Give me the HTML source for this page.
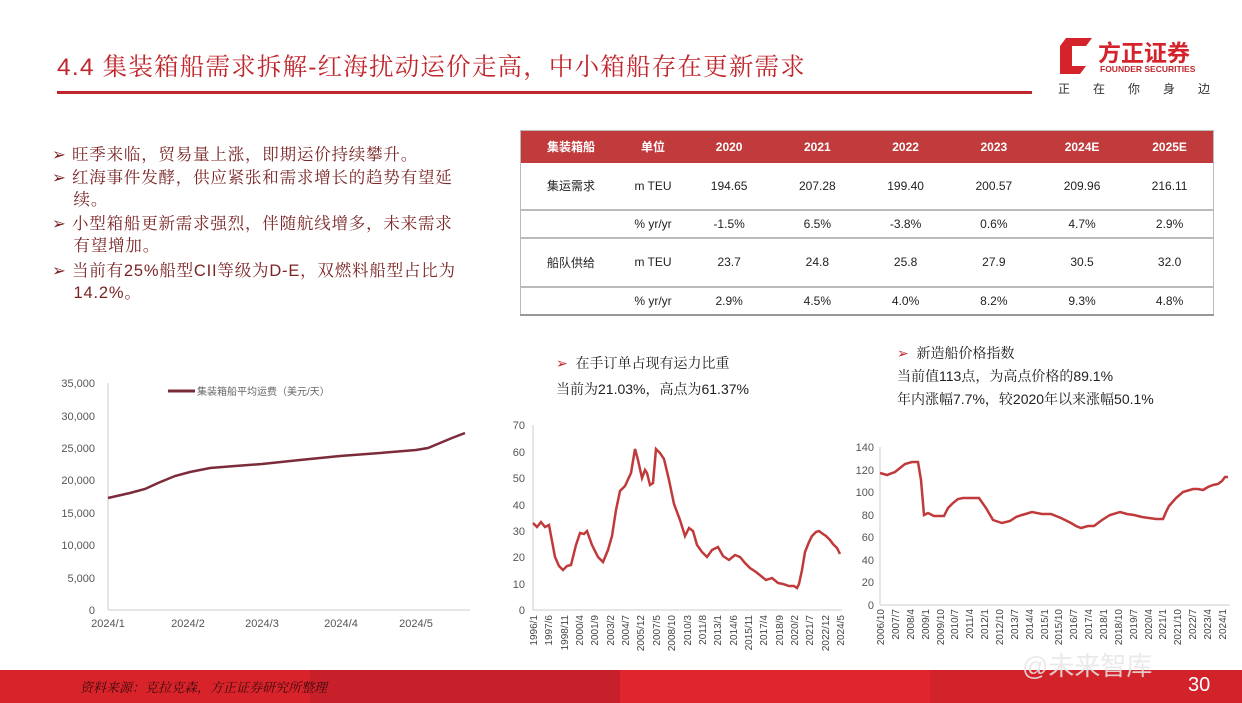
<!DOCTYPE html>
<html><head><meta charset="utf-8">
<style>
body{margin:0;width:1242px;height:703px;overflow:hidden;background:#fff;font-family:"Liberation Sans","Noto Sans CJK SC",sans-serif;position:relative}
.abs{position:absolute;white-space:nowrap}
.cn{font-family:"Liberation Sans","Noto Serif CJK SC","Noto Sans CJK SC",serif}
.bul{color:#7a2424;font-size:16.5px;line-height:22px;letter-spacing:0.8px}
table{border-collapse:collapse;font-size:12px;color:#222}
td{text-align:center;padding:0}
</style></head><body>
<div class="abs cn" style="left:57px;top:48px;font-size:24.5px;color:#c0272d;letter-spacing:1.2px">4.4 集装箱船需求拆解-红海扰动运价走高，中小箱船存在更新需求</div>
<div class="abs" style="left:57px;top:91px;width:975px;height:3px;background:#c0272d"></div>
<svg class="abs" style="left:1058px;top:36px" width="36" height="40"><path d="M8 2 H34 L28 10 H14 V30 H28 L22 38 H2 V10 Z" fill="#d4232b"/><path d="M14 10 H28 V30 H14 Z" fill="#fff"/></svg>
<div class="abs" style="left:1098px;top:34px;font-size:23px;font-weight:bold;color:#d4232b">方正证券</div>
<div class="abs" style="left:1100px;top:64px;font-size:8.5px;color:#c0272d;font-weight:bold">FOUNDER SECURITIES</div>
<div class="abs" style="left:1058px;top:80px;font-size:12px;color:#333;letter-spacing:23px">正在你身边</div>
<div class="abs bul cn" style="left:52px;top:144px">➢ 旺季来临，贸易量上涨，即期运价持续攀升。</div>
<div class="abs bul cn" style="left:52px;top:167px">➢ 红海事件发酵，供应紧张和需求增长的趋势有望延<br>&nbsp;&nbsp;&nbsp;&nbsp;续。</div>
<div class="abs bul cn" style="left:52px;top:213px">➢ 小型箱船更新需求强烈，伴随航线增多，未来需求<br>&nbsp;&nbsp;&nbsp;&nbsp;有望增加。</div>
<div class="abs bul cn" style="left:52px;top:260px">➢ 当前有25%船型CII等级为D-E，双燃料船型占比为<br>&nbsp;&nbsp;&nbsp;&nbsp;14.2%。</div>
<table class="abs" style="left:520px;top:130px;width:694px;border:1px solid #bbb">
<tr style="background:#c13a3c;color:#fff;height:32px;font-weight:bold"><td style="width:100px">集装箱船</td><td style="width:64px">单位</td><td>2020</td><td>2021</td><td>2022</td><td>2023</td><td>2024E</td><td>2025E</td></tr>
<tr style="height:47px;border-bottom:2px solid #bbb"><td>集运需求</td><td>m TEU</td><td>194.65</td><td>207.28</td><td>199.40</td><td>200.57</td><td>209.96</td><td>216.11</td></tr>
<tr style="height:28px;border-bottom:2px solid #bbb"><td></td><td>% yr/yr</td><td>-1.5%</td><td>6.5%</td><td>-3.8%</td><td>0.6%</td><td>4.7%</td><td>2.9%</td></tr>
<tr style="height:49px;border-bottom:2px solid #bbb"><td>船队供给</td><td>m TEU</td><td>23.7</td><td>24.8</td><td>25.8</td><td>27.9</td><td>30.5</td><td>32.0</td></tr>
<tr style="height:28px;border-bottom:2px solid #999"><td></td><td>% yr/yr</td><td>2.9%</td><td>4.5%</td><td>4.0%</td><td>8.2%</td><td>9.3%</td><td>4.8%</td></tr>
</table>
<div class="abs cn" style="left:556px;top:353px;font-size:14px;color:#222"><span style="color:#c0272d">➢</span>&nbsp; 在手订单占现有运力比重</div>
<div class="abs cn" style="left:556px;top:379px;font-size:14px;color:#222">当前为21.03%，高点为61.37%</div>
<div class="abs cn" style="left:897px;top:343px;font-size:14px;color:#222"><span style="color:#c0272d">➢</span>&nbsp; 新造船价格指数</div>
<div class="abs cn" style="left:897px;top:366px;font-size:14px;color:#222">当前值113点，为高点价格的89.1%</div>
<div class="abs cn" style="left:897px;top:389px;font-size:14px;color:#222">年内涨幅7.7%，较2020年以来涨幅50.1%</div>
<svg class="abs" style="left:0;top:0" width="1242" height="703" font-family="Liberation Sans, sans-serif" font-size="11" fill="#555">
<g text-anchor="end">
<text x="95" y="387">35,000</text><text x="95" y="420">30,000</text><text x="95" y="452">25,000</text><text x="95" y="484">20,000</text><text x="95" y="517">15,000</text><text x="95" y="549">10,000</text><text x="95" y="582">5,000</text><text x="95" y="614">0</text>
</g>
<line x1="108" y1="383" x2="108" y2="610" stroke="#ccc"/><line x1="108" y1="610" x2="470" y2="610" stroke="#ccc"/>
<g text-anchor="middle"><text x="108" y="627">2024/1</text><text x="188" y="627">2024/2</text><text x="262" y="627">2024/3</text><text x="341" y="627">2024/4</text><text x="416" y="627">2024/5</text></g>
<line x1="168" y1="391" x2="195" y2="391" stroke="#7b2b3a" stroke-width="3"/>
<text x="197" y="395" font-size="10" fill="#666">集装箱船平均运费（美元/天）</text>
<polyline fill="none" stroke="#7b2b3a" stroke-width="2.5" points="108,498 130,493 145,489 158,483 175,476 190,472 210,468 235,466 262,464 300,460 340,456 380,453 416,450 428,448 440,443 452,438 465,433"/>
<g text-anchor="end"><text x="525" y="429">70</text><text x="525" y="456">60</text><text x="525" y="482">50</text><text x="525" y="509">40</text><text x="525" y="535">30</text><text x="525" y="561">20</text><text x="525" y="588">10</text><text x="525" y="614">0</text></g>
<line x1="533" y1="425" x2="533" y2="610" stroke="#ccc"/><line x1="533" y1="610" x2="842" y2="610" stroke="#ccc"/>
<polyline fill="none" stroke="#c0393b" stroke-width="2.5" points="533,523 537,527 541,522 545,527 549,525 555,557 559,566 563,570 567,566 571,565 576,545 580,533 584,534 587,531 592,545 598,557 603,562 608,550 612,536 616,510 620,491 625,486 631,473 635,449 638,460 642,478 645,470 647,473 650,485 653,483 656,449 660,453 664,459 669,480 674,504 680,520 685,536 689,528 693,531 697,545 702,552 707,557 712,550 718,547 723,556 729,560 735,555 740,557 745,563 750,568 756,572 761,576 766,580 772,578 778,583 783,584 789,586 794,586 797,588 799,584 802,570 805,552 809,542 812,536 816,532 819,531 823,534 826,536 830,540 833,544 837,548 840,554"/>
<g text-anchor="end"><text x="874" y="451">140</text><text x="874" y="474">120</text><text x="874" y="496">100</text><text x="874" y="519">80</text><text x="874" y="541">60</text><text x="874" y="564">40</text><text x="874" y="586">20</text><text x="874" y="609">0</text></g>
<line x1="880" y1="447" x2="880" y2="605" stroke="#ccc"/><line x1="880" y1="605" x2="1230" y2="605" stroke="#ccc"/>
<polyline fill="none" stroke="#c0393b" stroke-width="2.5" points="880,473 887,475 895,472 900,468 905,464 912,462 918,462 921,480 924,515 928,513 934,516 944,516 948,508 953,503 958,499 963,498 979,498 986,508 993,520 1002,523 1010,521 1016,517 1022,515 1032,512 1042,514 1051,514 1061,518 1071,523 1076,526 1081,528 1088,526 1094,526 1102,520 1110,515 1120,512 1127,514 1134,515 1142,517 1149,518 1156,519 1163,519 1166,512 1169,506 1176,498 1183,492 1193,489 1198,489 1203,490 1208,487 1213,485 1218,484 1222,481 1225,477 1228,477"/>
</svg>
<svg class="abs" style="left:0;top:0" width="1242" height="703" font-family="Liberation Sans, sans-serif" font-size="10" fill="#444">
<g text-anchor="end">
<text transform="translate(537,615) rotate(-90)">1996/1</text>
<text transform="translate(552,615) rotate(-90)">1997/6</text>
<text transform="translate(568,615) rotate(-90)">1998/11</text>
<text transform="translate(583,615) rotate(-90)">2000/4</text>
<text transform="translate(598,615) rotate(-90)">2001/9</text>
<text transform="translate(614,615) rotate(-90)">2003/2</text>
<text transform="translate(629,615) rotate(-90)">2004/7</text>
<text transform="translate(644,615) rotate(-90)">2005/12</text>
<text transform="translate(660,615) rotate(-90)">2007/5</text>
<text transform="translate(675,615) rotate(-90)">2008/10</text>
<text transform="translate(691,615) rotate(-90)">2010/3</text>
<text transform="translate(706,615) rotate(-90)">2011/8</text>
<text transform="translate(721,615) rotate(-90)">2013/1</text>
<text transform="translate(737,615) rotate(-90)">2014/6</text>
<text transform="translate(752,615) rotate(-90)">2015/11</text>
<text transform="translate(767,615) rotate(-90)">2017/4</text>
<text transform="translate(783,615) rotate(-90)">2018/9</text>
<text transform="translate(798,615) rotate(-90)">2020/2</text>
<text transform="translate(813,615) rotate(-90)">2021/7</text>
<text transform="translate(829,615) rotate(-90)">2022/12</text>
<text transform="translate(844,615) rotate(-90)">2024/5</text>
<text transform="translate(884,609) rotate(-90)">2006/10</text>
<text transform="translate(899,609) rotate(-90)">2007/7</text>
<text transform="translate(914,609) rotate(-90)">2008/4</text>
<text transform="translate(929,609) rotate(-90)">2009/1</text>
<text transform="translate(944,609) rotate(-90)">2009/10</text>
<text transform="translate(958,609) rotate(-90)">2010/7</text>
<text transform="translate(973,609) rotate(-90)">2011/4</text>
<text transform="translate(988,609) rotate(-90)">2012/1</text>
<text transform="translate(1003,609) rotate(-90)">2012/10</text>
<text transform="translate(1018,609) rotate(-90)">2013/7</text>
<text transform="translate(1033,609) rotate(-90)">2014/4</text>
<text transform="translate(1048,609) rotate(-90)">2015/1</text>
<text transform="translate(1062,609) rotate(-90)">2015/10</text>
<text transform="translate(1077,609) rotate(-90)">2016/7</text>
<text transform="translate(1092,609) rotate(-90)">2017/4</text>
<text transform="translate(1107,609) rotate(-90)">2018/1</text>
<text transform="translate(1122,609) rotate(-90)">2018/10</text>
<text transform="translate(1137,609) rotate(-90)">2019/7</text>
<text transform="translate(1152,609) rotate(-90)">2020/4</text>
<text transform="translate(1166,609) rotate(-90)">2021/1</text>
<text transform="translate(1181,609) rotate(-90)">2021/10</text>
<text transform="translate(1196,609) rotate(-90)">2022/7</text>
<text transform="translate(1211,609) rotate(-90)">2023/4</text>
<text transform="translate(1226,609) rotate(-90)">2024/1</text>
</g></svg>
<div class="abs" style="left:0;top:670px;width:1242px;height:33px;background:#e0252d"></div>
<div class="abs" style="left:0;top:670px;width:310px;height:33px;background:#d8232b"></div>
<div class="abs" style="left:310px;top:670px;width:310px;height:33px;background:#c8202a"></div>
<div class="abs" style="left:930px;top:670px;width:312px;height:33px;background:#d2222a"></div>
<div class="abs cn" style="left:80px;top:677px;font-size:13px;font-style:italic;color:#3a0a0a">资料来源：克拉克森，方正证券研究所整理</div>
<div class="abs" style="left:1188px;top:674px;font-size:20px;color:#fff">30</div>
<div class="abs" style="left:1022px;top:646px;font-size:26px;color:rgba(230,230,230,0.85)">@未来智库</div>
</body></html>
